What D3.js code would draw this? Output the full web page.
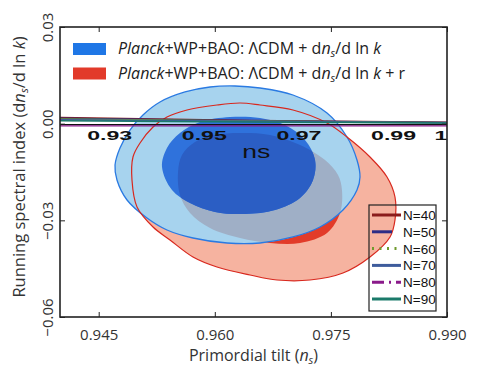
<!DOCTYPE html>
<html>
<head>
<meta charset="UTF-8">
<script src="https://d3js.org/d3.v7.min.js"></script>
<style>
  body { margin: 0; background: #fff; }
  text { font-family: "Open Sans", sans-serif; fill: #222; }
</style>
</head>
<body>
<div id="chart"></div>
<script>
// axis ticks
const xTicks = [0.945, 0.960, 0.975, 0.990];
const yTicks = [-0.06, -0.03, 0.00, 0.03];

// contours (ns, dns/dlnk)
const blueOuter = [[0.95938,0.01138],[0.96261,0.01169],[0.96584,0.01107],[0.97010,0.00890],[0.97450,0.00331],
  [0.97708,-0.00414],[0.97837,-0.01128],[0.97876,-0.01655],[0.97837,-0.02059],[0.97656,-0.02679],
  [0.97359,-0.03207],[0.97010,-0.03517],[0.96584,-0.03703],[0.96158,-0.03703],[0.95718,-0.03548],
  [0.95382,-0.03300],[0.95124,-0.02928],[0.94866,-0.02369],[0.94736,-0.01748],[0.94711,-0.01283],
  [0.94775,-0.00755],[0.94904,-0.00197],[0.95072,0.00269],[0.95292,0.00672],[0.95615,0.00983]];
const blueInner = [[0.95318,-0.01345],[0.95382,-0.00755],[0.95550,-0.00290],[0.95809,0.00052],[0.96196,0.00207],
  [0.96584,0.00176],[0.96907,-0.00041],[0.97165,-0.00507],[0.97295,-0.01128],[0.97269,-0.01748],
  [0.97101,-0.02307],[0.96778,-0.02679],[0.96390,-0.02803],[0.96003,-0.02741],[0.95680,-0.02462],
  [0.95447,-0.02059]];
const redOuter = [[0.96028,0.00579],[0.96326,0.00641],[0.96584,0.00579],[0.97010,0.00424],[0.97450,0.00021],
  [0.97708,-0.00414],[0.98005,-0.01034],[0.98225,-0.01655],[0.98328,-0.02276],[0.98328,-0.02990],
  [0.98264,-0.03517],[0.98005,-0.04138],[0.97656,-0.04634],[0.97230,-0.04852],[0.96804,-0.04852],
  [0.96455,-0.04696],[0.96028,-0.04448],[0.95718,-0.04138],[0.95421,-0.03610],[0.95202,-0.03207],
  [0.94995,-0.02586],[0.94930,-0.01748],[0.94943,-0.01034],[0.95034,-0.00600],[0.95202,-0.00103],
  [0.95382,0.00207],[0.95641,0.00424]];
const redInner = [[0.95525,-0.01500],[0.95576,-0.00972],[0.95744,-0.00569],[0.96003,-0.00352],[0.96326,-0.00290],
  [0.96713,-0.00352],[0.97101,-0.00662],[0.97424,-0.01128],[0.97592,-0.01593],[0.97643,-0.02059],
  [0.97618,-0.02772],[0.97450,-0.03393],[0.97101,-0.03703],[0.96713,-0.03703],[0.96326,-0.03548],
  [0.95938,-0.03238],[0.95680,-0.02772],[0.95550,-0.02214]];

// inset: model predictions
const insetTicks = [0.93, 0.95, 0.97, 0.99, 1.0];
const insetTickLabels = ["0.93", "0.95", "0.97", "0.99", "1"];
const insetNs = [0.9195, 0.96, 1.0013];
const nLabels = ["N=40", "N=50", "N=60", "N=70", "N=80", "N=90"];
const runN40 = [0.0019, 0.0010, 0.0004];
const runN50 = [0.0017, 0.0009, 0.00035];
const runN60 = [0.0014, 0.0008, 0.0003];
const runN70 = [0.0012, 0.0007, 0.00025];
const runN80 = [-0.0007, -0.0007, -0.0007];
const runN90 = [0.0009, 0.0005, 0.0002];
const insetAxisLevel = -0.0003;

const W = 479, H = 377;
const margin = {top: 27, right: 32, bottom: 60, left: 60};
const x = d3.scaleLinear().domain([0.94, 0.99]).range([margin.left, W - margin.right]);
const y = d3.scaleLinear().domain([-0.06, 0.03]).range([H - margin.bottom, margin.top]);
const xi = d3.scaleLinear().domain([insetNs[0], insetNs[2]]).range([margin.left, W - margin.right]);

const svg = d3.select("#chart").append("svg").attr("width", W).attr("height", H);
const defs = svg.append("defs");

const contour = d3.line().x(d => x(d[0])).y(d => y(d[1])).curve(d3.curveCatmullRomClosed);

defs.append("clipPath").attr("id", "plotClip").append("rect")
  .attr("x", margin.left).attr("y", margin.top)
  .attr("width", W - margin.left - margin.right).attr("height", H - margin.top - margin.bottom);
defs.append("clipPath").attr("id", "clipBlueOuter").append("path").attr("d", contour(blueOuter));
defs.append("clipPath").attr("id", "clipRedInner").append("path").attr("d", contour(redInner));

const plot = svg.append("g").attr("clip-path", "url(#plotClip)");

// red contours
plot.append("path").attr("d", contour(redOuter)).attr("fill", "#f6b3a0");
plot.append("path").attr("d", contour(redInner)).attr("fill", "#e23b29");
// blue contours on top, overlap shades
plot.append("path").attr("d", contour(blueOuter)).attr("fill", "#a7d3ee");
plot.append("path").attr("d", contour(redInner)).attr("fill", "#9fafc6").attr("clip-path", "url(#clipBlueOuter)");
plot.append("path").attr("d", contour(blueInner)).attr("fill", "#2f72dc");
plot.append("path").attr("d", contour(blueInner)).attr("fill", "#2b5ec4").attr("clip-path", "url(#clipRedInner)");
plot.append("path").attr("d", contour(blueOuter)).attr("fill", "none").attr("stroke", "#2a7ae2").attr("stroke-width", 1.3);
plot.append("path").attr("d", contour(redOuter)).attr("fill", "none").attr("stroke", "#d8281e").attr("stroke-width", 1.2);

// inset lines
const series = [
  {name: nLabels[0], vals: runN40, color: "#8b1c1c", dash: null},
  {name: nLabels[1], vals: runN50, color: "#2d2d86", dash: null},
  {name: nLabels[2], vals: runN60, color: "#6f9a2c", dash: "2,5.5"},
  {name: nLabels[3], vals: runN70, color: "#3e5c9c", dash: null},
  {name: nLabels[4], vals: runN80, color: "#8a1a8a", dash: "12,5,2,5"},
  {name: nLabels[5], vals: runN90, color: "#1b7a6a", dash: null}
];
const insetLine = d3.line().x((d, i) => xi(insetNs[i])).y(d => y(d));
plot.append("line")
  .attr("x1", x.range()[0]).attr("x2", x.range()[1])
  .attr("y1", y(insetAxisLevel)).attr("y2", y(insetAxisLevel))
  .attr("stroke", "#111").attr("stroke-width", 1.4);
series.forEach(s => {
  plot.append("path").attr("d", insetLine(s.vals)).attr("fill", "none")
    .attr("stroke", s.color).attr("stroke-width", s.name === "N=80" ? 1.4 : 1.6);
});

// inset tick labels
svg.append("g").selectAll("text").data(insetTicks).join("text")
  .attr("transform", d => `translate(${xi(d)},${y(insetAxisLevel) + 15.5}) scale(1.85,1)`)
  .attr("text-anchor", "middle")
  .style("font-family", "'Liberation Sans', Arial, sans-serif")
  .style("font-weight", "bold").style("font-size", "12.5px").style("fill", "#111")
  .text((d, i) => insetTickLabels[i]);
svg.append("text")
  .attr("transform", `translate(${xi(0.961)},${y(insetAxisLevel) + 33.5}) scale(1.4,1)`)
  .attr("text-anchor", "middle")
  .style("font-family", "'Liberation Sans', Arial, sans-serif")
  .style("font-size", "19px").style("fill", "#111")
  .text("ns");

// axes
const fmt = d3.format(".3f");
const gx = svg.append("g").attr("transform", `translate(0,${y.range()[0]})`)
  .call(d3.axisBottom(x).tickValues(xTicks).tickSize(-5).tickPadding(12).tickFormat(fmt));
const gy = svg.append("g").attr("transform", `translate(${x.range()[0]},0)`)
  .call(d3.axisLeft(y).tickValues(yTicks).tickSize(-5).tickFormat(d3.format(".2f")));
gy.selectAll("text").attr("x", null).attr("dy", null)
  .attr("text-anchor", "middle").attr("transform", "translate(-7,0) rotate(-90)");
svg.append("g").attr("transform", `translate(0,${y.range()[1]})`)
  .call(d3.axisTop(x).tickValues(xTicks).tickSize(-5).tickFormat(""));
svg.append("g").attr("transform", `translate(${x.range()[1]},0)`)
  .call(d3.axisRight(y).tickValues(yTicks).tickSize(-5).tickFormat(""));
svg.selectAll(".domain").remove();
svg.selectAll(".tick line").attr("stroke", "#222").attr("stroke-width", 1);
svg.selectAll(".tick text").style("font-size", "15px").style("fill", "#333");

svg.append("rect")
  .attr("x", x.range()[0]).attr("y", y.range()[1])
  .attr("width", x.range()[1] - x.range()[0]).attr("height", y.range()[0] - y.range()[1])
  .attr("fill", "none").attr("stroke", "#222").attr("stroke-width", 1.6);

// axis titles
const xt = svg.append("text").attr("x", (x.range()[0] + x.range()[1]) / 2).attr("y", 361)
  .attr("text-anchor", "middle").style("font-size", "16px").style("fill", "#333");
xt.append("tspan").text("Primordial tilt (");
xt.append("tspan").style("font-style", "italic").text("n");
xt.append("tspan").attr("dy", 3).style("font-style", "italic").style("font-size", "11px").text("s");
xt.append("tspan").attr("dy", -3).text(")");

const yt = svg.append("text")
  .attr("transform", `translate(25,${(y.range()[0] + y.range()[1]) / 2 - 5}) rotate(-90)`)
  .attr("text-anchor", "middle").style("font-size", "16.5px").style("fill", "#333");
yt.append("tspan").text("Running spectral index (d");
yt.append("tspan").style("font-style", "italic").text("n");
yt.append("tspan").attr("dy", 3).style("font-style", "italic").style("font-size", "11px").text("s");
yt.append("tspan").attr("dy", -3).text("/d ln ");
yt.append("tspan").style("font-style", "italic").text("k");
yt.append("tspan").text(")");

// contour legend
const legendItems = [
  {color: "#1f77e6", extra: ""},
  {color: "#e23a2a", extra: " + r"}
];
legendItems.forEach((d, i) => {
  const ly = 49 + i * 24.5;
  svg.append("rect").attr("x", 73).attr("y", ly - 6).attr("width", 33).attr("height", 12).attr("fill", d.color);
  const t = svg.append("text").attr("x", 118).attr("y", ly + 5).style("font-size", "16px").style("fill", "#222");
  t.append("tspan").style("font-style", "italic").text("Planck");
  t.append("tspan").text("+WP+BAO: ΛCDM + d");
  t.append("tspan").style("font-style", "italic").text("n");
  t.append("tspan").attr("dy", 3).style("font-style", "italic").style("font-size", "11px").text("s");
  t.append("tspan").attr("dy", -3).text("/d ln ");
  t.append("tspan").style("font-style", "italic").text("k");
  if (d.extra) t.append("tspan").text(d.extra);
});

// N legend
const lg = svg.append("g");
lg.append("rect").attr("x", 369).attr("y", 205).attr("width", 67).attr("height", 106)
  .attr("fill", "none").attr("stroke", "#222").attr("stroke-width", 1.2);
series.forEach((s, i) => {
  const ly = 215 + i * 16.8;
  lg.append("line").attr("x1", 372).attr("x2", s.name === "N=50" ? 392 : 401)
    .attr("y1", ly).attr("y2", ly)
    .attr("stroke", s.color).attr("stroke-width", 3)
    .attr("stroke-dasharray", s.dash);
  lg.append("text").attr("x", 403).attr("y", ly + 5)
    .style("font-family", "'Liberation Sans', Arial, sans-serif")
    .style("font-size", "13.5px").style("fill", "#111").text(s.name);
});
</script>
</body>
</html>
